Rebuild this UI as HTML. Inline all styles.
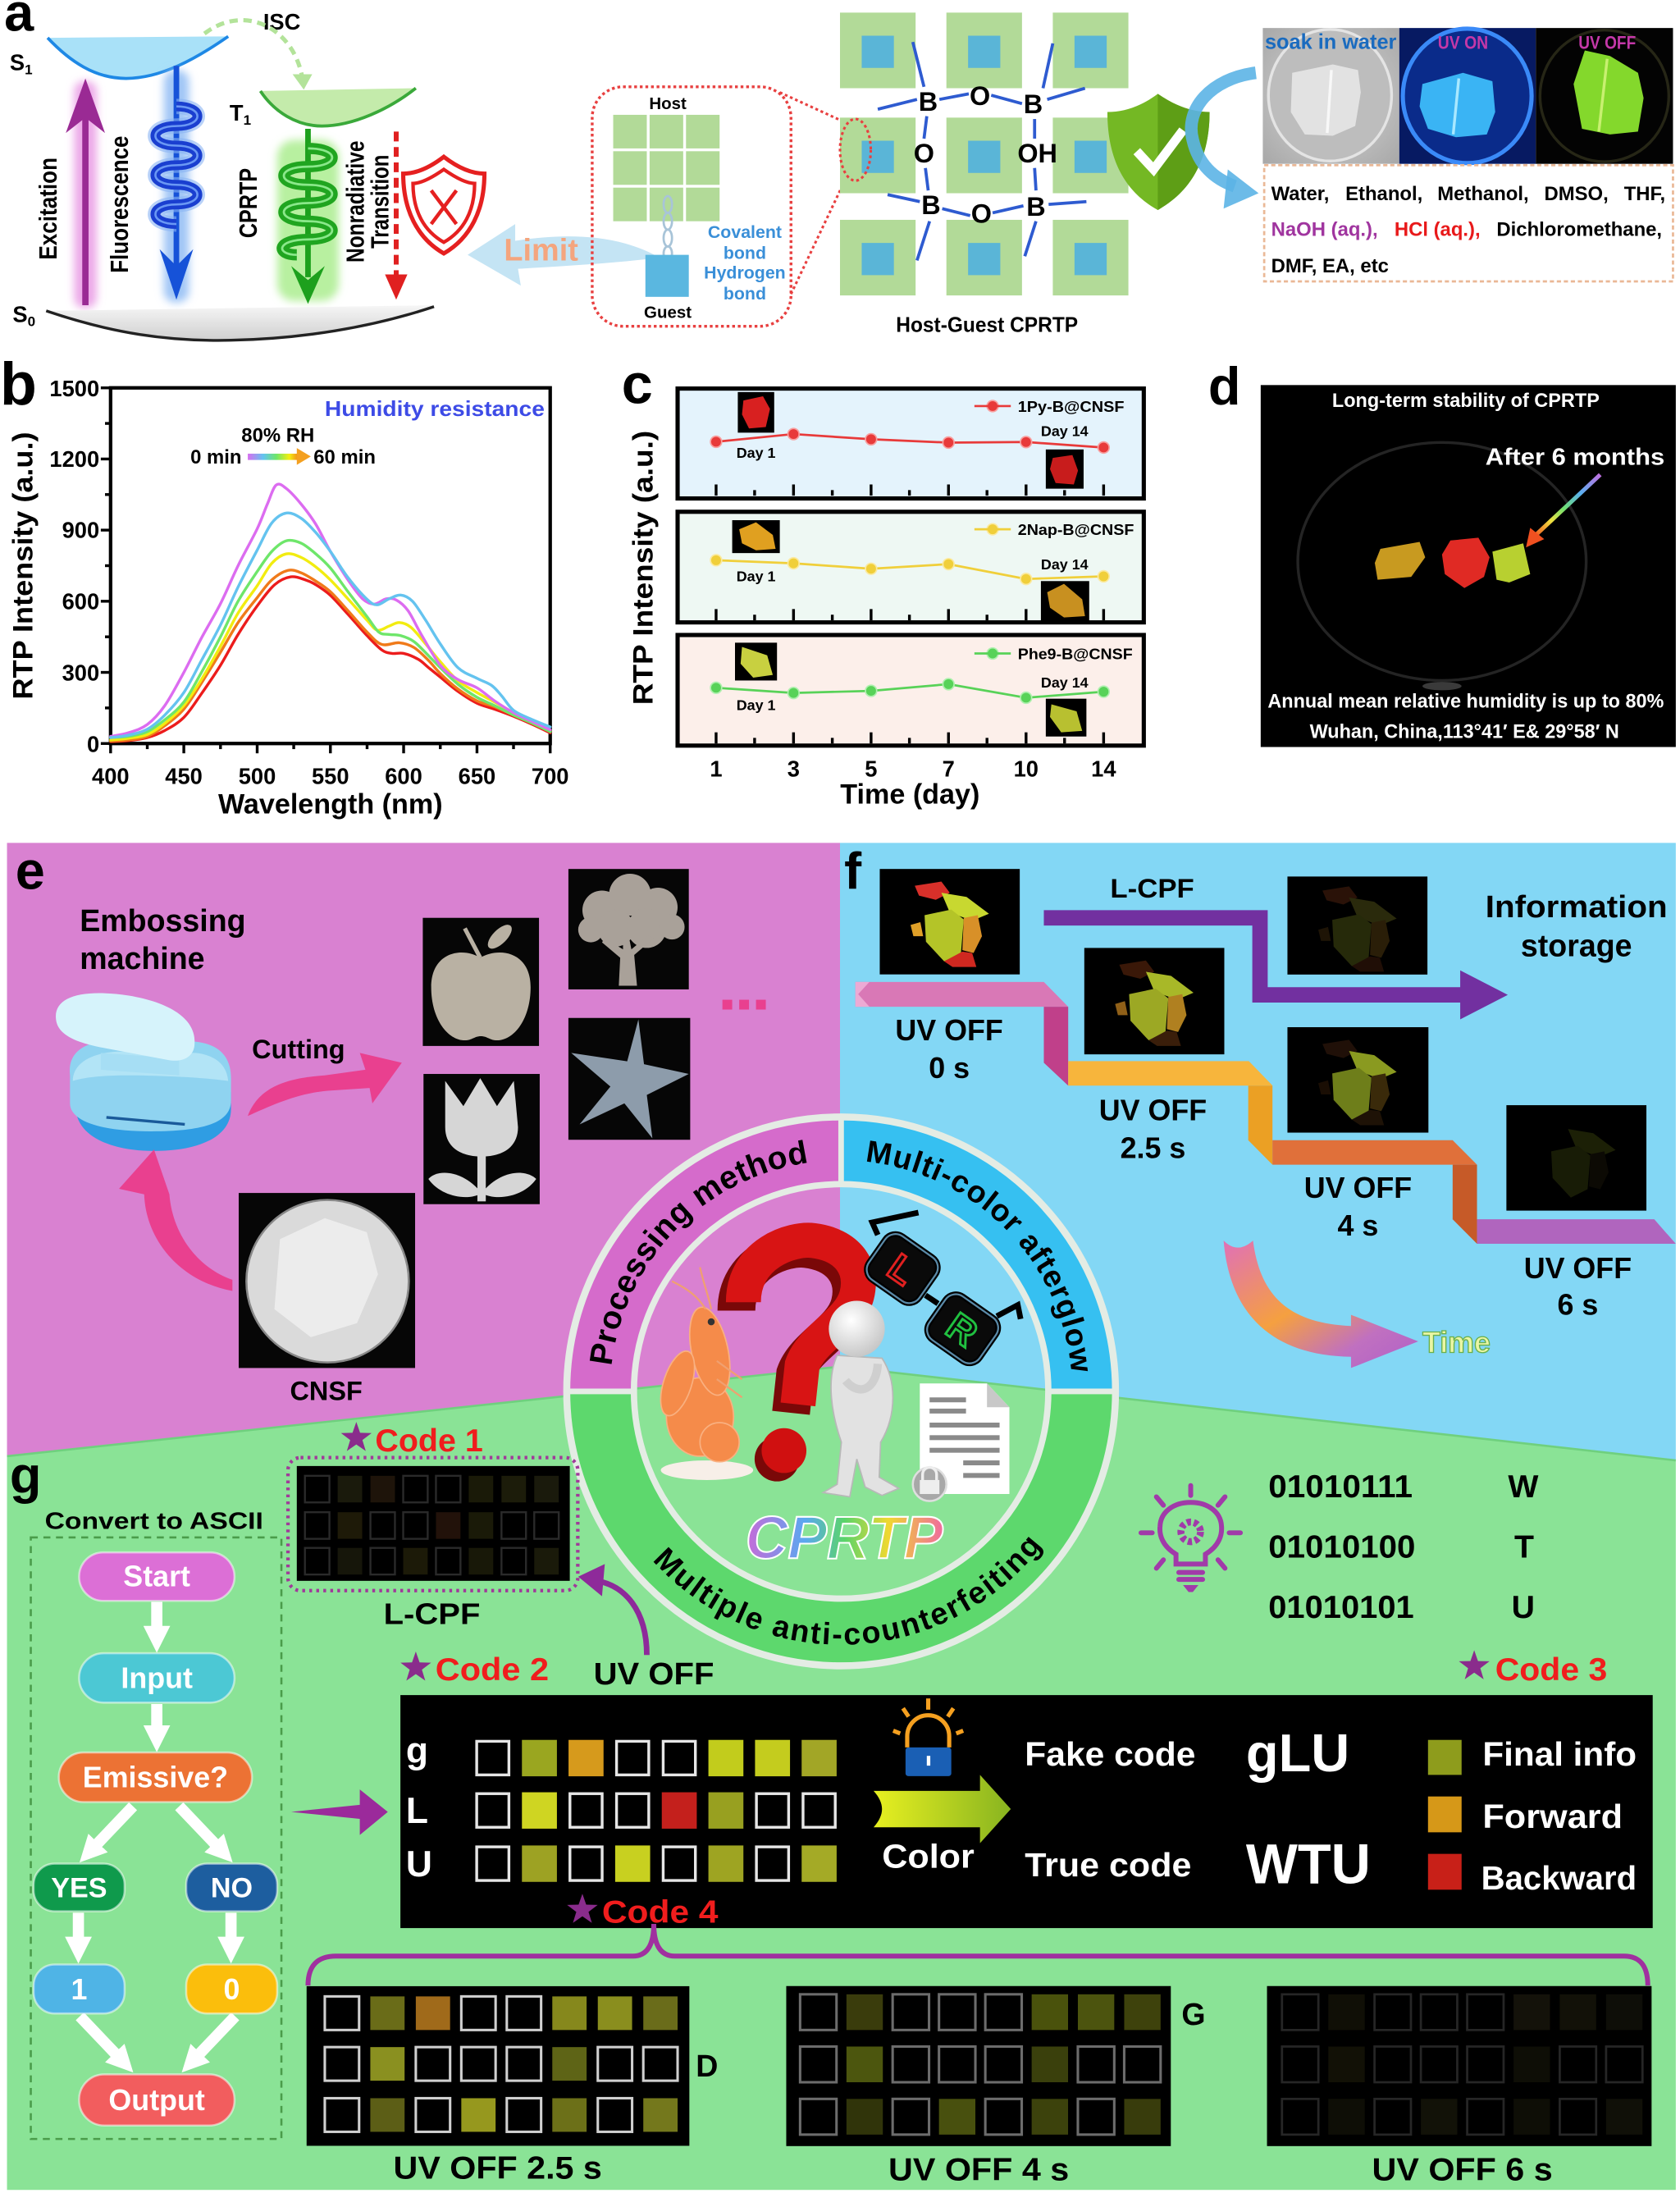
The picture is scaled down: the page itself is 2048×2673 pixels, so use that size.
<!DOCTYPE html>
<html><head><meta charset="utf-8">
<style>
html,body{margin:0;padding:0;background:#fff;}
svg{display:block;}
text{font-family:"Liberation Sans",Arial,sans-serif;font-weight:bold;}
.e{fill:#000;stroke:#e6e6e6;stroke-width:2}
.e2{fill:#000;stroke:#d0d0d0;stroke-width:1.8}
.e4{fill:#000;stroke:#6c6c6c;stroke-width:1.8}
.e6{fill:#000;stroke:#262626;stroke-width:1.6}
.e1{fill:#000;stroke:#2a2a2a;stroke-width:1.4}
</style></head><body>
<svg xmlns="http://www.w3.org/2000/svg" xmlns:xlink="http://www.w3.org/1999/xlink" width="2048" height="2673" viewBox="0 0 1200 1566.2" preserveAspectRatio="none">
<defs>
<path id="star" d="M0,-10 L2.35,-3.24 9.51,-3.09 3.8,1.24 5.88,8.09 0,4 -5.88,8.09 -3.8,1.24 -9.51,-3.09 -2.35,-3.24Z" fill="#8a2c8c"/>
<filter id="bl" x="-50%" y="-50%" width="200%" height="200%"><feGaussianBlur stdDeviation="3"/></filter>
<linearGradient id="rainbow" x1="0" x2="1" y1="0" y2="0"><stop offset="0" stop-color="#d86ef0"/><stop offset=".3" stop-color="#62c4f0"/><stop offset=".55" stop-color="#6ee66a"/><stop offset=".8" stop-color="#f4ef10"/><stop offset="1" stop-color="#f07a1a"/></linearGradient>
<linearGradient id="rainD" x1="1" y1="0" x2="0" y2="1"><stop offset="0" stop-color="#c070e0"/><stop offset=".3" stop-color="#5ab0f0"/><stop offset=".55" stop-color="#70e070"/><stop offset=".75" stop-color="#f0e040"/><stop offset="1" stop-color="#f05020"/></linearGradient>
<linearGradient id="cpr" x1="0" x2="1"><stop offset="0" stop-color="#c86ad8"/><stop offset=".3" stop-color="#5aa8f0"/><stop offset=".5" stop-color="#5ad46a"/><stop offset=".72" stop-color="#f0d830"/><stop offset="1" stop-color="#f06aa0"/></linearGradient>
<linearGradient id="timeg" x1="0" y1="0" x2="1" y2="1"><stop offset="0" stop-color="#e070b8"/><stop offset=".45" stop-color="#f5a040"/><stop offset=".75" stop-color="#c070c0"/><stop offset="1" stop-color="#b060c8"/></linearGradient>
<linearGradient id="colg" x1="0" x2="1"><stop offset="0" stop-color="#e8f020"/><stop offset="1" stop-color="#88b420"/></linearGradient>
<linearGradient id="greyg" x1="0" x2="0" y1="0" y2="1"><stop offset="0" stop-color="#f6f6f6"/><stop offset="1" stop-color="#cfcfcf"/></linearGradient>
<radialGradient id="headg" cx=".4" cy=".35" r=".7"><stop offset="0" stop-color="#ffffff"/><stop offset="1" stop-color="#c4c4c4"/></radialGradient>
<radialGradient id="soak" cx=".5" cy=".5" r=".7"><stop offset="0" stop-color="#d8d8d8"/><stop offset="1" stop-color="#a8a8a8"/></radialGradient>
<marker id="wa" viewBox="0 0 10 10" refX="2" refY="5" markerWidth="2.4" markerHeight="2.4" orient="auto"><path d="M0,0 L10,5 L0,10 Z" fill="#fff"/></marker>
<path id="arcL" d="M435.8,993.7 A165,165 0 0 1 600.8,828.7"/>
<path id="arcR" d="M600.8,828.7 A165,165 0 0 1 765.8,993.7"/>
<path id="arcB" d="M419.8,993.7 A181,181 0 0 0 781.8,993.7"/>
</defs>
<rect x="0" y="0" width="1200" height="1566.2" fill="#fff"/>

<!-- ================= PANEL A ================= -->
<text x="3" y="22" font-size="38">a</text>
<text x="188" y="21" font-size="16">ISC</text>
<text x="7" y="50" font-size="16">S<tspan font-size="10" dy="3">1</tspan></text>
<path d="M34,27 C50,44 68,56 90,56 C115,56 140,42 163,26 Z" fill="#a9e1f8"/>
<path d="M34,27 C50,44 68,56 90,56 C115,56 140,42 163,26" fill="none" stroke="#1e88e5" stroke-width="2.2"/>
<path d="M146,24 C175,2 210,20 216,56" fill="none" stroke="#b3e39a" stroke-width="3" stroke-dasharray="6,4"/>
<polygon points="209,53 223,53 217,64" fill="#b3e39a"/>
<rect x="53" y="58" width="16" height="162" rx="7" fill="#eca8e8" filter="url(#bl)"/>
<line x1="61" y1="218" x2="61" y2="66" stroke="#9a2a94" stroke-width="4.5"/>
<path d="M47,95 L61,56 L75,95 L61,84 Z" fill="#9a2a94"/>
<text transform="translate(40.5,149) rotate(-90)" text-anchor="middle" font-size="18" textLength="73" lengthAdjust="spacingAndGlyphs">Excitation</text>
<rect x="117" y="50" width="18" height="166" rx="8" fill="#a0c6f6" filter="url(#bl)"/>
<line x1="126" y1="47" x2="126" y2="200" stroke="#1652d8" stroke-width="4"/>
<path d="M114,178 L126,214 L138,178 L126,190 Z" fill="#1652d8"/>
<path d="M126,76 C146,76 146,90 126,90 C106,90 106,104 126,104 C146,104 146,118 126,118 C106,118 106,132 126,132 C146,132 146,146 126,146 C106,146 106,160 126,160" fill="none" stroke="#8ab4f4" stroke-width="11" opacity=".6"/>
<path d="M126,76 C146,76 146,90 126,90 C106,90 106,104 126,104 C146,104 146,118 126,118 C106,118 106,132 126,132 C146,132 146,146 126,146 C106,146 106,160 126,160" fill="none" stroke="#1a3fd0" stroke-width="7"/>
<path d="M126,76 C146,76 146,90 126,90 C106,90 106,104 126,104 C146,104 146,118 126,118 C106,118 106,132 126,132 C146,132 146,146 126,146 C106,146 106,160 126,160" fill="none" stroke="#6a98f4" stroke-width="1.5"/>
<text transform="translate(91.5,146) rotate(-90)" text-anchor="middle" font-size="18" textLength="98" lengthAdjust="spacingAndGlyphs">Fluorescence</text>
<path d="M186,65 C196,80 212,90 230,90 C252,90 278,78 297,63 Z" fill="#c4ebab"/>
<path d="M186,65 C196,80 212,90 230,90 C252,90 278,78 297,63" fill="none" stroke="#3aa93a" stroke-width="2.2"/>
<text x="164" y="86" font-size="16">T<tspan font-size="10" dy="3">1</tspan></text>
<rect x="198" y="100" width="44" height="115" rx="12" fill="#b8f0a0" filter="url(#bl)"/>
<line x1="220" y1="92" x2="220" y2="198" stroke="#1da01d" stroke-width="4"/>
<path d="M208,190 L220,217 L232,190 L220,200 Z" fill="#1da01d"/>
<path d="M220,106 C243,106 243,119 220,119 C197,119 197,132 220,132 C243,132 243,145 220,145 C197,145 197,158 220,158 C243,158 243,171 220,171 C197,171 197,182 212,182" fill="none" stroke="#20a520" stroke-width="8"/>
<path d="M220,106 C243,106 243,119 220,119 C197,119 197,132 220,132 C243,132 243,145 220,145 C197,145 197,158 220,158 C243,158 243,171 220,171 C197,171 197,182 212,182" fill="none" stroke="#8ae88a" stroke-width="1.6"/>
<text transform="translate(183.5,145) rotate(-90)" text-anchor="middle" font-size="18" textLength="50" lengthAdjust="spacingAndGlyphs">CPRTP</text>
<text transform="translate(260,144) rotate(-90)" text-anchor="middle" font-size="18" textLength="87" lengthAdjust="spacingAndGlyphs">Nonradiative</text>
<text transform="translate(277.5,144) rotate(-90)" text-anchor="middle" font-size="18" textLength="67" lengthAdjust="spacingAndGlyphs">Transition</text>
<line x1="283" y1="94" x2="283" y2="198" stroke="#e02020" stroke-width="3.5" stroke-dasharray="7,4"/>
<polygon points="275,196 291,196 283,214" fill="#e02020"/>
<path d="M317,112 C330,122 340,124 346,124 C346,150 336,170 317,181 C298,170 288,150 288,124 C294,124 304,122 317,112 Z" fill="#fff" stroke="#e52020" stroke-width="3"/>
<path d="M317,121 C327,128 334,131 339,131 C339,151 331,165 317,173 C303,165 295,151 295,131 C300,131 307,128 317,121 Z" fill="none" stroke="#e52020" stroke-width="2.5"/>
<line x1="308" y1="136" x2="326" y2="160" stroke="#e52020" stroke-width="2.6"/>
<line x1="326" y1="136" x2="308" y2="160" stroke="#e52020" stroke-width="2.6"/>
<text x="9" y="230" font-size="16">S<tspan font-size="10" dy="3">0</tspan></text>
<path d="M33,222 L310,218 C265,234 215,242 165,243 C120,244 80,238 33,222 Z" fill="url(#greyg)"/>
<path d="M33,222 C80,238 120,244 165,243 C215,242 265,234 310,219" fill="none" stroke="#222" stroke-width="2"/>
<path d="M471,184 C440,166 400,167 368,172 L368,160 L334,182 L372,204 L370,192 C402,190 440,188 471,184 Z" fill="#c4e4f4"/>
<text x="360" y="186" font-size="22" fill="#f4a57e" textLength="53" lengthAdjust="spacingAndGlyphs">Limit</text>
<rect x="423" y="62" width="142" height="171" rx="22" fill="none" stroke="#e84040" stroke-width="2" stroke-dasharray="2,2"/>
<line x1="557" y1="66" x2="605" y2="88" stroke="#e84040" stroke-width="1.8" stroke-dasharray="2,2"/>
<line x1="565" y1="210" x2="602" y2="132" stroke="#e84040" stroke-width="1.8" stroke-dasharray="2,2"/>
<text x="477" y="78" font-size="12" text-anchor="middle">Host</text>
<g fill="#b2da98">
<rect x="438" y="82" width="24" height="24"/><rect x="464" y="82" width="24" height="24"/><rect x="490" y="82" width="24" height="24"/>
<rect x="438" y="108" width="24" height="24"/><rect x="464" y="108" width="24" height="24"/><rect x="490" y="108" width="24" height="24"/>
<rect x="438" y="134" width="24" height="24"/><rect x="464" y="134" width="24" height="24"/><rect x="490" y="134" width="24" height="24"/>
</g>
<g fill="none" stroke="#a8c4d8" stroke-width="1.6">
<ellipse cx="477" cy="146" rx="3" ry="6"/><ellipse cx="477" cy="158" rx="3" ry="6"/><ellipse cx="477" cy="170" rx="3" ry="6"/><ellipse cx="477" cy="181" rx="3" ry="5"/>
</g>
<rect x="461" y="182" width="31" height="30" fill="#5ab7e0"/>
<text x="477" y="227" font-size="12" text-anchor="middle">Guest</text>
<g font-size="12.5" fill="#3a8fd8" text-anchor="middle">
<text x="532" y="170">Covalent</text><text x="532" y="185">bond</text><text x="532" y="199">Hydrogen</text><text x="532" y="214">bond</text>
</g>

<g fill="#b2da98">
<rect x="600" y="9" width="54" height="54"/><rect x="676" y="9" width="54" height="54"/><rect x="752" y="9" width="54" height="54"/>
<rect x="600" y="84" width="54" height="54"/><rect x="676" y="84" width="54" height="54"/><rect x="752" y="84" width="54" height="54"/>
<rect x="600" y="157" width="54" height="54"/><rect x="676" y="157" width="54" height="54"/><rect x="752" y="157" width="54" height="54"/>
</g>
<g fill="#5ab5d7">
<rect x="615.5" y="25.5" width="23" height="23"/><rect x="691.5" y="25.5" width="23" height="23"/><rect x="767.5" y="25.5" width="23" height="23"/>
<rect x="615.5" y="100.5" width="23" height="23"/><rect x="691.5" y="100.5" width="23" height="23"/><rect x="767.5" y="100.5" width="23" height="23"/>
<rect x="615.5" y="173.5" width="23" height="23"/><rect x="691.5" y="173.5" width="23" height="23"/><rect x="767.5" y="173.5" width="23" height="23"/>
</g>
<ellipse cx="611" cy="107" rx="11" ry="22" fill="none" stroke="#e84040" stroke-width="1.8" stroke-dasharray="2,2"/>
<g stroke="#2e5bd0" stroke-width="2.2">
<line x1="652" y1="30" x2="660" y2="62"/><line x1="627" y1="78" x2="655" y2="71"/>
<line x1="671" y1="71" x2="692" y2="67"/><line x1="708" y1="68" x2="730" y2="74"/>
<line x1="745" y1="63" x2="752" y2="31"/><line x1="748" y1="71" x2="775" y2="63"/>
<line x1="662" y1="83" x2="660" y2="99"/><line x1="661" y1="120" x2="663" y2="136"/>
<line x1="739" y1="85" x2="739" y2="99"/><line x1="739" y1="120" x2="740" y2="136"/>
<line x1="634" y1="139" x2="657" y2="144"/><line x1="673" y1="149" x2="693" y2="154"/>
<line x1="709" y1="152" x2="731" y2="147"/><line x1="749" y1="146" x2="776" y2="144"/>
<line x1="664" y1="158" x2="655" y2="186"/><line x1="740" y1="158" x2="732" y2="183"/>
</g>
<g font-size="19" text-anchor="middle">
<text x="663" y="79">B</text><text x="700" y="75">O</text><text x="738" y="81">B</text>
<text x="660" y="116">O</text><text x="741" y="116">OH</text>
<text x="665" y="153">B</text><text x="701" y="159">O</text><text x="740" y="154">B</text>
</g>
<text x="705" y="237" font-size="15" text-anchor="middle" textLength="130" lengthAdjust="spacingAndGlyphs">Host-Guest CPRTP</text>
<path d="M827,67 C840,76 852,80 864,80 C864,112 852,136 827,150 C802,136 791,112 791,80 C803,80 815,76 827,67 Z" fill="#74b824"/>
<path d="M827,67 C840,76 852,80 864,80 C864,112 852,136 827,150 Z" fill="#5e9e16"/>
<polyline points="812,108 824,121 845,93" fill="none" stroke="#fff" stroke-width="6.5"/>
<path d="M897,52 C865,56 846,78 852,100 C856,118 868,128 882,133" fill="none" stroke="#5cb4e6" stroke-width="9" opacity=".9"/>
<polygon points="877,121 899,138 874,149" fill="#5cb4e6" opacity=".9"/>
<rect x="902" y="20" width="97.5" height="97" fill="url(#soak)"/>
<ellipse cx="950" cy="68" rx="44" ry="47" fill="#bdbdbd" stroke="#e4e4e4" stroke-width="2"/>
<polygon points="923,52 952,46 970,50 972,66 968,90 952,97 932,96 922,80" fill="#e6e6e6" opacity=".9"/>
<line x1="951" y1="50" x2="948" y2="95" stroke="#f8f8f8" stroke-width="2"/>
<rect x="999.5" y="20" width="97.5" height="97" fill="#071a62"/>
<ellipse cx="1048" cy="68.5" rx="46" ry="48" fill="#0a2b8a" stroke="#3a8af8" stroke-width="3"/>
<polygon points="1016,60 1045,52 1066,58 1068,80 1062,96 1040,98 1020,92 1014,76" fill="#3ab4f4"/>
<line x1="1042" y1="56" x2="1038" y2="96" stroke="#a8e8ff" stroke-width="2"/>
<rect x="1097" y="20" width="98" height="97" fill="#030303"/>
<ellipse cx="1146" cy="68.5" rx="46" ry="47" fill="none" stroke="#262616" stroke-width="2"/>
<polygon points="1132,36 1150,40 1170,52 1174,70 1170,94 1150,96 1130,92 1124,60" fill="#84d82c"/>
<line x1="1148" y1="42" x2="1142" y2="94" stroke="#c8f070" stroke-width="2"/>
<text x="903.5" y="35" font-size="15" fill="#1a6bbf" textLength="94" lengthAdjust="spacingAndGlyphs">soak in water</text>
<text x="1045" y="35" font-size="13" fill="#c438a8" text-anchor="middle" textLength="36" lengthAdjust="spacingAndGlyphs">UV ON</text>
<text x="1148" y="35" font-size="13" fill="#c438a8" text-anchor="middle" textLength="41" lengthAdjust="spacingAndGlyphs">UV OFF</text>
<rect x="903" y="118" width="292" height="83" fill="none" stroke="#eab896" stroke-width="1.6" stroke-dasharray="3,2"/>
<text y="143" font-size="14"><tspan x="908">Water,</tspan><tspan x="961">Ethanol,</tspan><tspan x="1026.7">Methanol,</tspan><tspan x="1103">DMSO,</tspan><tspan x="1160">THF,</tspan></text>
<text y="168.5" font-size="14"><tspan x="908" fill="#a0359f">NaOH (aq.),</tspan><tspan x="996" fill="#e8191a">HCl (aq.),</tspan><tspan x="1069">Dichloromethane,</tspan></text>
<text x="908" y="194.5" font-size="14">DMF, EA, etc</text>

<!-- ================= PANEL B ================= -->
<text x="0" y="289" font-size="43">b</text>
<rect x="79" y="277" width="314" height="254" fill="none" stroke="#000" stroke-width="2.5"/>
<g stroke="#000" stroke-width="2">
<line x1="79" y1="531" x2="79" y2="538"/><line x1="131.3" y1="531" x2="131.3" y2="538"/><line x1="183.7" y1="531" x2="183.7" y2="538"/><line x1="236" y1="531" x2="236" y2="538"/><line x1="288.3" y1="531" x2="288.3" y2="538"/><line x1="340.7" y1="531" x2="340.7" y2="538"/><line x1="393" y1="531" x2="393" y2="538"/>
<line x1="105.2" y1="531" x2="105.2" y2="535"/><line x1="157.5" y1="531" x2="157.5" y2="535"/><line x1="209.8" y1="531" x2="209.8" y2="535"/><line x1="262.2" y1="531" x2="262.2" y2="535"/><line x1="314.5" y1="531" x2="314.5" y2="535"/><line x1="366.8" y1="531" x2="366.8" y2="535"/>
<line x1="79" y1="531" x2="72" y2="531"/><line x1="79" y1="480.2" x2="72" y2="480.2"/><line x1="79" y1="429.4" x2="72" y2="429.4"/><line x1="79" y1="378.6" x2="72" y2="378.6"/><line x1="79" y1="327.8" x2="72" y2="327.8"/><line x1="79" y1="277" x2="72" y2="277"/>
<line x1="79" y1="505.6" x2="75" y2="505.6"/><line x1="79" y1="454.8" x2="75" y2="454.8"/><line x1="79" y1="404" x2="75" y2="404"/><line x1="79" y1="353.2" x2="75" y2="353.2"/><line x1="79" y1="302.4" x2="75" y2="302.4"/>
</g>
<g font-size="16" text-anchor="end">
<text x="71" y="537">0</text><text x="71" y="486">300</text><text x="71" y="435">600</text><text x="71" y="384">900</text><text x="71" y="333.5">1200</text><text x="71" y="283">1500</text>
</g>
<g font-size="16" text-anchor="middle">
<text x="79" y="560">400</text><text x="131.3" y="560">450</text><text x="183.7" y="560">500</text><text x="236" y="560">550</text><text x="288.3" y="560">600</text><text x="340.7" y="560">650</text><text x="393" y="560">700</text>
</g>
<text x="236" y="581" font-size="20" text-anchor="middle">Wavelength (nm)</text>
<text transform="translate(23,404) rotate(-90)" font-size="20" text-anchor="middle" textLength="191" lengthAdjust="spacingAndGlyphs">RTP Intensity (a.u.)</text>
<text x="232" y="297" font-size="15" fill="#3d4be6" textLength="157" lengthAdjust="spacingAndGlyphs">Humidity resistance</text>
<text x="198.5" y="315.5" font-size="14" text-anchor="middle">80% RH</text>
<text x="136" y="331" font-size="14">0 min</text>
<text x="224" y="331" font-size="14">60 min</text>
<rect x="177" y="324" width="37" height="4.5" fill="url(#rainbow)"/>
<polygon points="212,320 222,326 212,332" fill="#f4a020"/>
<g transform="translate(79,531) scale(1.04667,-0.169333) translate(-400,0)" fill="none" stroke-linejoin="round" stroke-linecap="round">
<polyline class="sm" vector-effect="non-scaling-stroke" stroke="#ec1c1c" stroke-width="3.4" points="400,8 412,12 425,25 437,55 450,110 462,210 475,330 487,460 500,580 512,670 523,703 533,690 540,670 550,625 562,545 575,455 585,395 592,380 600,380 610,355 617,320 625,280 637,220 650,170 662,145 675,115 688,80 700,45"/>
<polyline class="sm" vector-effect="non-scaling-stroke" stroke="#f07a1a" stroke-width="3.4" points="400,10 412,15 425,30 437,75 450,145 462,255 475,385 487,510 500,615 510,690 521,730 530,720 540,685 550,640 562,560 575,470 585,418 597,425 607,405 617,350 625,295 637,230 650,180 662,155 675,120 688,85 700,50"/>
<polyline class="sm" vector-effect="non-scaling-stroke" stroke="#f2ec10" stroke-width="3.4" points="400,15 412,22 425,38 437,85 450,160 462,270 475,410 487,550 500,665 510,760 520,800 530,785 540,745 550,690 562,610 575,520 582,478 590,495 597,510 605,490 615,420 625,345 637,265 650,215 662,175 675,130 688,90 700,55"/>
<polyline class="sm" vector-effect="non-scaling-stroke" stroke="#6ee66a" stroke-width="3.4" points="400,25 412,30 425,50 437,100 450,175 462,300 475,450 487,600 500,725 510,810 520,855 530,845 540,800 550,740 562,640 575,535 583,470 590,460 598,455 607,430 617,370 625,320 637,250 650,195 662,160 675,120 688,85 700,50"/>
<polyline class="sm" vector-effect="non-scaling-stroke" stroke="#dc6cf0" stroke-width="3.4" points="400,30 412,45 425,80 437,160 450,300 462,445 475,590 487,750 500,905 507,1010 513,1090 520,1075 530,1010 540,925 550,810 562,690 572,610 580,588 588,610 595,605 603,560 612,460 625,330 637,270 650,235 662,180 675,130 688,92 700,58"/>
<polyline class="sm" vector-effect="non-scaling-stroke" stroke="#64c3ef" stroke-width="3.4" points="400,25 412,35 425,60 437,120 450,215 462,350 475,500 487,660 500,815 510,930 520,972 530,950 540,890 550,810 562,700 575,608 582,585 590,610 598,626 606,600 615,520 625,420 637,320 650,275 660,245 667,200 675,140 688,100 700,70"/>
</g>

<!-- ================= PANEL C ================= -->
<text x="444" y="288" font-size="40">c</text>
<rect x="484" y="277.5" width="333" height="78.5" fill="#e4f3fc" stroke="#000" stroke-width="3"/>
<rect x="484" y="365.5" width="333" height="79" fill="#eef8f3" stroke="#000" stroke-width="3"/>
<rect x="484" y="453.5" width="333" height="79" fill="#fcefea" stroke="#000" stroke-width="3"/>
<g stroke="#000" stroke-width="2">
<path d="M511.5,354 v-8 M566.8,354 v-8 M622.2,354 v-8 M677.5,354 v-8 M732.9,354 v-8 M788.3,354 v-8 M539,354 v-4 M594.5,354 v-4 M649.6,354 v-4 M705,354 v-4 M760.4,354 v-4"/>
<path d="M511.5,443 v-8 M566.8,443 v-8 M622.2,443 v-8 M677.5,443 v-8 M732.9,443 v-8 M788.3,443 v-8 M539,443 v-4 M594.5,443 v-4 M649.6,443 v-4 M705,443 v-4 M760.4,443 v-4"/>
<path d="M511.5,531 v-8 M566.8,531 v-8 M622.2,531 v-8 M677.5,531 v-8 M732.9,531 v-8 M788.3,531 v-8 M539,531 v-4 M594.5,531 v-4 M649.6,531 v-4 M705,531 v-4 M760.4,531 v-4"/>
</g>
<rect x="527" y="280" width="26" height="29" fill="#000"/><polygon points="531,286 545,283 550,292 547,305 535,306 530,296" fill="#d82020"/>
<rect x="747" y="321" width="27" height="28" fill="#000"/><polygon points="752,327 766,325 770,336 767,346 754,345 750,335" fill="#c81c1c"/>
<rect x="523" y="371.5" width="34" height="23.5" fill="#000"/><polygon points="528,378 540,373 552,382 554,392 540,393 530,388" fill="#e0a020"/>
<rect x="743.5" y="415" width="34.5" height="29" fill="#000"/><polygon points="748,423 760,417 773,428 775,440 760,441 750,434" fill="#c89020"/>
<rect x="525" y="459" width="30" height="27" fill="#000"/><polygon points="530,462 548,468 552,482 538,484 529,474" fill="#c8d040"/>
<rect x="747" y="499" width="29" height="27" fill="#000"/><polygon points="751,503 769,508 773,522 758,523 750,512" fill="#b8c030"/>
<polyline points="511.5,315.5 566.8,310 622.2,313.7 677.5,316.1 732.9,315.7 788.3,319.6" fill="none" stroke="#e83a3a" stroke-width="1.6"/>
<polyline points="511.5,400.1 566.8,402.3 622.2,406.2 677.5,402.9 732.9,413.5 788.3,411.6" fill="none" stroke="#f0cf3a" stroke-width="1.6"/>
<polyline points="511.5,491.2 566.8,494.9 622.2,493.4 677.5,488.6 732.9,498.3 788.3,494" fill="none" stroke="#58d258" stroke-width="1.6"/>
<g fill="#e83a3a" stroke="#f8a0a0" stroke-width="1"><circle cx="511.5" cy="315.5" r="4"/><circle cx="566.8" cy="310" r="4"/><circle cx="622.2" cy="313.7" r="4"/><circle cx="677.5" cy="316.1" r="4"/><circle cx="732.9" cy="315.7" r="4"/><circle cx="788.3" cy="319.6" r="4"/><circle cx="709" cy="290" r="4"/></g>
<g fill="#f0cf3a" stroke="#fbeaa0" stroke-width="1"><circle cx="511.5" cy="400.1" r="4"/><circle cx="566.8" cy="402.3" r="4"/><circle cx="622.2" cy="406.2" r="4"/><circle cx="677.5" cy="402.9" r="4"/><circle cx="732.9" cy="413.5" r="4"/><circle cx="788.3" cy="411.6" r="4"/><circle cx="709" cy="378" r="4"/></g>
<g fill="#58d258" stroke="#b0f0b0" stroke-width="1"><circle cx="511.5" cy="491.2" r="4"/><circle cx="566.8" cy="494.9" r="4"/><circle cx="622.2" cy="493.4" r="4"/><circle cx="677.5" cy="488.6" r="4"/><circle cx="732.9" cy="498.3" r="4"/><circle cx="788.3" cy="494" r="4"/><circle cx="709" cy="466.7" r="4"/></g>
<line x1="696" y1="290" x2="722" y2="290" stroke="#e83a3a" stroke-width="1.6"/>
<line x1="696" y1="378" x2="722" y2="378" stroke="#f0cf3a" stroke-width="1.6"/>
<line x1="696" y1="466.7" x2="722" y2="466.7" stroke="#58d258" stroke-width="1.6"/>
<text x="727" y="294" font-size="11" textLength="76" lengthAdjust="spacingAndGlyphs">1Py-B@CNSF</text>
<text x="727" y="382" font-size="11" textLength="83" lengthAdjust="spacingAndGlyphs">2Nap-B@CNSF</text>
<text x="727" y="470.7" font-size="11" textLength="82" lengthAdjust="spacingAndGlyphs">Phe9-B@CNSF</text>
<g font-size="10.5">
<text x="526" y="327">Day 1</text><text x="526" y="415">Day 1</text><text x="526" y="507">Day 1</text>
<text x="743.5" y="311.5">Day 14</text><text x="743.5" y="406.5">Day 14</text><text x="743.5" y="491">Day 14</text>
</g>
<g font-size="16" text-anchor="middle">
<text x="511.5" y="554.5">1</text><text x="566.8" y="554.5">3</text><text x="622.2" y="554.5">5</text><text x="677.5" y="554.5">7</text><text x="732.9" y="554.5">10</text><text x="788.3" y="554.5">14</text>
</g>
<text x="650" y="574" font-size="20" text-anchor="middle">Time (day)</text>
<text transform="translate(466,405.5) rotate(-90)" font-size="20" text-anchor="middle" textLength="196" lengthAdjust="spacingAndGlyphs">RTP Intensity (a.u.)</text>

<!-- ================= PANEL D ================= -->
<text x="863" y="289" font-size="38">d</text>
<rect x="900.5" y="275" width="296.5" height="258.5" fill="#000"/>
<ellipse cx="1030" cy="401" rx="103" ry="85" fill="none" stroke="#242424" stroke-width="2"/>
<ellipse cx="1030" cy="490" rx="14" ry="3" fill="#3a3a3a"/>
<polygon points="986,392 1014,387 1018,398 1008,412 984,414 982,402" fill="#c89a20"/>
<polygon points="1036,386 1056,384 1064,398 1060,412 1046,420 1032,410 1030,396" fill="#e02a24"/>
<polygon points="1066,394 1088,388 1093,410 1078,416 1069,414" fill="#b8d030"/>
<line x1="1143" y1="339" x2="1096" y2="383" stroke="url(#rainD)" stroke-width="3"/>
<polygon points="1090,391 1093,377 1103,385" fill="#f05020"/>
<g fill="#fff" text-anchor="middle">
<text x="1047" y="290.5" font-size="14" textLength="191" lengthAdjust="spacingAndGlyphs">Long-term stability of CPRTP</text>
<text x="1125" y="332" font-size="17" textLength="128" lengthAdjust="spacingAndGlyphs">After 6 months</text>
<text x="1047" y="505.5" font-size="14" textLength="283" lengthAdjust="spacingAndGlyphs">Annual mean relative humidity is up to 80%</text>
<text x="1046" y="527" font-size="14" textLength="221" lengthAdjust="spacingAndGlyphs">Wuhan, China,113°41′ E&amp; 29°58′ N</text>
</g>

<!-- ================= E/F/G BACKGROUND ================= -->
<polygon points="5,602 600,602 600,976 5,1040" fill="#d981d1"/>
<polygon points="600,602 1197,602 1197,1043 600,976" fill="#83d7f5"/>
<polygon points="5,1040 600,976 1197,1043 1197,1564 5,1564" fill="#8ae396"/>
<polyline points="5,1040 600,976 1197,1043" fill="none" stroke="#6fd07e" stroke-width="1.5"/>

<!-- ================= PANEL E ================= -->
<text x="11" y="635" font-size="38">e</text>
<text x="57" y="665" font-size="22">Embossing</text>
<text x="57" y="692" font-size="22">machine</text>
<path d="M54,790 C54,812 80,822 110,822 C142,822 165,812 165,792 L165,780 L54,782 Z" fill="#2f9de3"/>
<path d="M50,768 C48,750 62,744 82,742 L140,744 C158,746 165,756 165,770 L165,786 C165,802 145,808 108,808 C70,808 50,800 50,788 Z" fill="#8fd3f0"/>
<path d="M52,772 C52,760 64,752 84,751 L140,752 C156,754 162,762 163,772 C150,770 120,768 90,768 C70,768 58,770 52,772 Z" fill="#b2e4f6"/>
<line x1="76" y1="798" x2="132" y2="803" stroke="#1a5a9a" stroke-width="2"/>
<path d="M72,752 L128,756 L128,768 L72,764 Z" fill="#a6def4"/>
<path d="M40,728 C38,712 58,706 92,711 C122,716 140,728 139,745 C139,755 130,759 120,757 L72,748 C52,744 41,738 40,728 Z" fill="#d6f3fb"/>
<text x="180" y="756" font-size="19">Cutting</text>
<path d="M177,797 C185,776 205,770 232,768 L261,764 L257,752 L287,759 L266,788 L264,777 L234,779 C212,781 195,789 177,797 Z" fill="#e9408f"/>
<path d="M166,922 C128,915 104,885 103,853 L85,849 L110,821 L121,853 C123,880 140,905 166,914 Z" fill="#e9408f"/>
<rect x="302" y="655.5" width="83" height="91.5" fill="#060606"/>
<path d="M343,684 C330,676 308,680 308,705 C308,728 320,743 332,743 C337,743 339,740 343.5,740 C348,740 350,743 355,743 C367,743 379,728 379,705 C379,680 357,676 343,684 Z" fill="#b9b1a3"/>
<path d="M343,684 L332,663" stroke="#b9b1a3" stroke-width="3"/>
<ellipse cx="357" cy="669" rx="11" ry="5" transform="rotate(-45 357 669)" fill="#b9b1a3"/>
<rect x="406" y="620.6" width="86" height="86" fill="#060606"/>
<g fill="#a9a199"><circle cx="430" cy="650" r="14"/><circle cx="450" cy="639" r="15"/><circle cx="470" cy="648" r="14"/><circle cx="440" cy="663" r="13"/><circle cx="462" cy="663" r="14"/><circle cx="480" cy="662" r="9"/><circle cx="422" cy="664" r="9"/>
<polygon points="442,704 455,704 453,682 467,670 463,668 451,678 449,668 445,668 445,678 432,670 430,673 443,684"/></g>
<rect x="302.5" y="767" width="83" height="93" fill="#060606"/>
<g fill="#d6d6d6"><path d="M318,772 L331,790 L343,770 L355,790 L367,772 L370,805 C370,820 358,826 344,826 C330,826 318,820 318,805 Z"/><rect x="341" y="824" width="6" height="34"/>
<path d="M344,852 C330,835 312,835 306,842 C315,855 335,858 344,852 Z"/><path d="M344,852 C358,835 376,835 383,842 C374,855 354,858 344,852 Z"/></g>
<rect x="406" y="727" width="87" height="87" fill="#060606"/>
<polygon points="456,728 448,758 408,752 436,776 414,803 446,788 466,813 462,782 492,767 460,760" fill="#8d9cab"/>
<rect x="516" y="714" width="7" height="7" fill="#e9408f"/><rect x="528" y="714" width="7" height="7" fill="#e9408f"/><rect x="540" y="714" width="7" height="7" fill="#e9408f"/>
<rect x="170.5" y="852" width="126" height="125" fill="#060606"/>
<circle cx="234" cy="915" r="58" fill="#dadada" stroke="#888" stroke-width="1.5"/>
<polygon points="200,885 232,870 262,880 270,910 255,945 222,955 196,935" fill="#f0f0f0" opacity=".8"/>
<text x="233" y="1000" font-size="19" text-anchor="middle">CNSF</text>

<!-- ================= PANEL F ================= -->
<text x="603" y="635" font-size="37">f</text>
<polygon points="611,701.3 745.6,701.3 763,719 611,719" fill="#d978b6"/>
<polygon points="611,701.3 621,701.3 613,710 621,719 611,719" fill="#ecaad4"/>
<polygon points="745.6,719 763,719 763,775.3 745.6,759" fill="#c0408a"/>
<polygon points="763,757.8 892,757.8 909,775.3 763,775.3" fill="#f7b53c"/>
<polygon points="891.6,775.3 908.9,775.3 908.9,831.8 891.6,814.3" fill="#eba024"/>
<polygon points="908.9,814.3 1037.6,814.3 1055,831.8 908.9,831.8" fill="#e0703a"/>
<polygon points="1037.6,831.8 1055,831.8 1055,888.3 1037.6,870.8" fill="#c65a28"/>
<polygon points="1055,870.8 1181.6,870.8 1197,888.3 1055,888.3" fill="#b065be"/>
<path d="M745.6,655.5 H900 V710.5 H1045" fill="none" stroke="#7230a0" stroke-width="11"/>
<polygon points="1043,693 1077,710.5 1043,728" fill="#7230a0"/>
<text x="793" y="641" font-size="19" textLength="60" lengthAdjust="spacingAndGlyphs">L-CPF</text>
<text x="1126" y="655" font-size="22" text-anchor="middle" textLength="130" lengthAdjust="spacingAndGlyphs">Information</text>
<text x="1126" y="683" font-size="22" text-anchor="middle">storage</text>
<rect x="628.4" y="620.6" width="100" height="75.3" fill="#000"/>
<g transform="translate(628.4,620.6)"><polygon points="25,12 44,9 50,17 40,22 28,19" fill="#d8302a"/><polygon points="44,17 62,20 78,32 66,37 50,31" fill="#c8d830"/><polygon points="32,33 51,29 60,36 58,60 46,66 33,52" fill="#b4c428"/><polygon points="60,35 70,33 73,48 67,60 59,58" fill="#d89028"/><polygon points="46,66 59,59 66,60 69,70 52,70" fill="#d02820"/><polygon points="22,40 29,38 31,48 24,48" fill="#e0a028"/></g>
<rect x="919.6" y="626" width="100" height="70" fill="#000"/>
<g transform="translate(919.6,624)"><polygon points="25,12 44,9 50,17 40,22 28,19" fill="#2a1208"/><polygon points="44,17 62,20 78,32 66,37 50,31" fill="#2a2a0c"/><polygon points="32,33 51,29 60,36 58,60 46,66 33,52" fill="#262a0a"/><polygon points="60,35 70,33 73,48 67,60 59,58" fill="#2a1e08"/><polygon points="46,66 59,59 66,60 69,70 52,70" fill="#200e06"/><polygon points="22,40 29,38 31,48 24,48" fill="#1e1406"/></g>
<rect x="774.5" y="677" width="100" height="76" fill="#000"/>
<g transform="translate(774.5,677)"><polygon points="25,12 44,9 50,17 40,22 28,19" fill="#3a1808"/><polygon points="44,17 62,20 78,32 66,37 50,31" fill="#a8b828"/><polygon points="32,33 51,29 60,36 58,60 46,66 33,52" fill="#9ca824"/><polygon points="60,35 70,33 73,48 67,60 59,58" fill="#b08020"/><polygon points="46,66 59,59 66,60 69,70 52,70" fill="#3a1e0a"/><polygon points="22,40 29,38 31,48 24,48" fill="#906018"/></g>
<rect x="919.6" y="733.6" width="100.7" height="75.3" fill="#000"/>
<g transform="translate(919.6,733.6)"><polygon points="25,12 44,9 50,17 40,22 28,19" fill="#201008"/><polygon points="44,17 62,20 78,32 66,37 50,31" fill="#8a9a20"/><polygon points="32,33 51,29 60,36 58,60 46,66 33,52" fill="#6e7e1a"/><polygon points="60,35 70,33 73,48 67,60 59,58" fill="#3a2a0a"/><polygon points="46,66 59,59 66,60 69,70 52,70" fill="#1e1206"/><polygon points="22,40 29,38 31,48 24,48" fill="#1a0e04"/></g>
<rect x="1076" y="789.3" width="100" height="75.3" fill="#000"/>
<g transform="translate(1076,789.3)"><polygon points="44,17 62,20 78,32 66,37 50,31" fill="#1c2006"/><polygon points="32,33 51,29 60,36 58,60 46,66 33,52" fill="#181c06"/><polygon points="60,35 70,33 73,48 67,60 59,58" fill="#0c0a04"/></g>
<g font-size="21" text-anchor="middle">
<text x="678" y="743">UV OFF</text><text x="678" y="770">0 s</text>
<text x="823.5" y="800">UV OFF</text><text x="823.5" y="827">2.5 s</text>
<text x="970" y="855.5">UV OFF</text><text x="970" y="882.5">4 s</text>
<text x="1127" y="913">UV OFF</text><text x="1127" y="939">6 s</text>
</g>
<path d="M874,886 Q884,896 895,886 C900,925 920,945 965,947 L965,939 L1013,958 L965,977 L965,969 C905,968 878,935 874,886 Z" fill="url(#timeg)"/>
<text x="1016" y="966" font-size="21" fill="#eaf6a4" stroke="#6ab04c" stroke-width=".8">Time</text>

<!-- ================= CENTER CIRCLE ================= -->
<path d="M404.8,993.7 A196,196 0 0 1 600.8,797.7 L600.8,845.7 A148,148 0 0 0 452.8,993.7 Z" fill="#d56bcb"/>
<path d="M600.8,797.7 A196,196 0 0 1 796.8,993.7 L748.8,993.7 A148,148 0 0 0 600.8,845.7 Z" fill="#36c0f1"/>
<path d="M796.8,993.7 A196,196 0 0 1 404.8,993.7 L452.8,993.7 A148,148 0 0 0 748.8,993.7 Z" fill="#5dd86d"/>
<circle cx="600.8" cy="993.7" r="196" fill="none" stroke="#e4ece4" stroke-width="5"/>
<circle cx="600.8" cy="993.7" r="148" fill="none" stroke="#e4ece4" stroke-width="4.5"/>
<line x1="600.8" y1="797" x2="600.8" y2="846" stroke="#e4ece4" stroke-width="4"/>
<line x1="404" y1="993.7" x2="453" y2="993.7" stroke="#e4ece4" stroke-width="4"/>
<line x1="748.5" y1="993.7" x2="797.5" y2="993.7" stroke="#e4ece4" stroke-width="4"/>
<text font-size="23"><textPath xlink:href="#arcL" href="#arcL" startOffset="18" textLength="218" lengthAdjust="spacing">Processing method</textPath></text>
<text font-size="22"><textPath xlink:href="#arcR" href="#arcR" startOffset="17" textLength="229" lengthAdjust="spacing">Multi-color afterglow</textPath></text>
<text font-size="22"><textPath xlink:href="#arcB" href="#arcB" startOffset="132" textLength="318" lengthAdjust="spacing">Multiple anti-counterfeiting</textPath></text>
<ellipse cx="505" cy="1050" rx="33" ry="7" fill="#f7efe8"/>
<g fill="#f58b4a" stroke="#f9b080" stroke-width="1">
<ellipse cx="500" cy="1012" rx="24" ry="28"/>
<ellipse cx="507" cy="965" rx="13" ry="32" transform="rotate(-12 507 965)"/>
<ellipse cx="484" cy="988" rx="10" ry="24" transform="rotate(18 484 988)"/>
<ellipse cx="514" cy="1030" rx="14" ry="14"/>
</g>
<g stroke="#f0a070" stroke-width="1.3" fill="none"><path d="M504,935 C498,925 490,920 480,915"/><path d="M508,935 C506,925 502,915 500,905"/><path d="M512,972 L530,985"/><path d="M512,985 L530,998"/></g>
<circle cx="508" cy="944" r="2.5" fill="#333"/>
<g transform="translate(-5,6)"><path d="M531,930 C531,895 566,884 581,886 C605,889 617,905 612,925 C607,945 580,955 573,975 L570,1003" fill="none" stroke="#7a0808" stroke-width="27"/><circle cx="560" cy="1036" r="16" fill="#7a0808"/></g>
<path d="M531,930 C531,895 566,884 581,886 C605,889 617,905 612,925 C607,945 580,955 573,975 L570,1003" fill="none" stroke="#d81414" stroke-width="25"/>
<circle cx="560" cy="1036" r="16" fill="#d01010"/>
<path d="M598,968 C590,985 594,1010 601,1030 L598,1060 L588,1066 L607,1069 L612,1042 L618,1062 L630,1068 L642,1063 L628,1055 L629,1030 C641,1010 640,985 630,970 Z" fill="#e2e2e2" stroke="#b8b8b8" stroke-width="1"/>
<path d="M604,986 C614,998 626,992 627,974" fill="none" stroke="#cfcfcf" stroke-width="6"/>
<circle cx="612" cy="949" r="20" fill="url(#headg)"/>
<g stroke="#000" stroke-width="4" fill="none"><path d="M627,882 L623,873 L656,866"/><path d="M712,940 L727,932 L729,942"/><line x1="661" y1="925" x2="670" y2="931"/></g>
<rect x="622.5" y="887" width="44" height="38" rx="9" transform="rotate(35 644.5 906)" fill="#0a0a0a" stroke="#000" stroke-width="4"/>
<rect x="622.5" y="887" width="44" height="38" rx="9" transform="rotate(35 644.5 906)" fill="none" stroke="#5a8aa8" stroke-width="1.3"/>
<rect x="665.6" y="930" width="44" height="38" rx="9" transform="rotate(35 687.6 949)" fill="#0a0a0a" stroke="#000" stroke-width="4"/>
<rect x="665.6" y="930" width="44" height="38" rx="9" transform="rotate(35 687.6 949)" fill="none" stroke="#5a8aa8" stroke-width="1.3"/>
<text x="644.5" y="916" font-size="27" text-anchor="middle" fill="none" stroke="#e02020" stroke-width="1.7" transform="rotate(35 644.5 906)">L</text>
<text x="687.6" y="959" font-size="27" text-anchor="middle" fill="none" stroke="#20c040" stroke-width="1.7" transform="rotate(35 687.6 949)">R</text>
<path d="M657,988 L705,988 L721,1005 L721,1067 L657,1067 Z" fill="#fff"/>
<polygon points="705,988 721,1005 705,1005" fill="#c8c8c8"/>
<g fill="#8a8a8a"><rect x="664" y="998" width="26" height="3.5"/><rect x="664" y="1006" width="26" height="3.5"/><rect x="664" y="1016" width="50" height="3.5"/><rect x="664" y="1025" width="50" height="3.5"/><rect x="664" y="1034" width="50" height="3.5"/><rect x="688" y="1043" width="26" height="3.5"/><rect x="688" y="1052" width="26" height="3.5"/></g>
<circle cx="664" cy="1060" r="12" fill="#a8a8a8" stroke="#dedede" stroke-width="1.5"/>
<path d="M659,1058 v-5 a5,5 0 0 1 10,0 v5" fill="none" stroke="#eee" stroke-width="2"/>
<rect x="657" y="1057" width="14" height="10" fill="#eee"/>
<text x="603" y="1113" font-size="43" font-style="italic" text-anchor="middle" fill="url(#cpr)" stroke="#fff" stroke-width="1.2" textLength="141" lengthAdjust="spacingAndGlyphs">CPRTP</text>

<!-- ================= PANEL G ================= -->
<text x="7" y="1066" font-size="37">g</text>
<text x="32" y="1092" font-size="17" textLength="156" lengthAdjust="spacingAndGlyphs">Convert to ASCII</text>
<rect x="22" y="1098" width="179" height="429.6" fill="none" stroke="#4a9c4a" stroke-width="1.5" stroke-dasharray="5,4"/>
<g stroke="#fff" stroke-width="8" marker-end="url(#wa)">
<line x1="112" y1="1144" x2="112" y2="1165"/><line x1="112" y1="1217" x2="112" y2="1236"/>
<line x1="95" y1="1290" x2="67.4" y2="1319"/><line x1="128" y1="1290" x2="155.6" y2="1319"/>
<line x1="56" y1="1366" x2="56" y2="1387"/><line x1="165" y1="1366" x2="165" y2="1387"/>
<line x1="57" y1="1440" x2="84.6" y2="1469"/><line x1="168" y1="1440" x2="140.4" y2="1469"/>
</g>
<g stroke="#ffffff" stroke-opacity=".5" stroke-width="1.5">
<rect x="56.5" y="1108.7" width="111" height="34.6" rx="17.3" fill="#dc6fd6"/>
<rect x="56.5" y="1180.7" width="111" height="35.3" rx="17.6" fill="#4cc8d4"/>
<rect x="42" y="1251.6" width="138" height="35.4" rx="17.7" fill="#ec7234"/>
<rect x="24" y="1331" width="65" height="34" rx="15" fill="#0f9a4c"/>
<rect x="133" y="1331" width="65" height="34" rx="15" fill="#1d5e9f"/>
<rect x="24" y="1403" width="65" height="35" rx="15" fill="#4fb4e6"/>
<rect x="133" y="1403" width="65" height="35" rx="15" fill="#fbbe0c"/>
<rect x="56.5" y="1481.5" width="111" height="36.5" rx="18" fill="#f25d5e"/>
</g>
<g fill="#fff" font-size="21" text-anchor="middle">
<text x="112" y="1133">Start</text><text x="112" y="1205.5">Input</text><text x="111" y="1276.5">Emissive?</text>
<text x="56.5" y="1355" font-size="20">YES</text><text x="165.5" y="1355" font-size="20">NO</text>
<text x="56.5" y="1428">1</text><text x="165.5" y="1428">0</text><text x="112" y="1507">Output</text>
</g>
<use xlink:href="#star" href="#star" transform="translate(254.5,1027) scale(1.15)"/>
<text x="268" y="1036.5" font-size="23" fill="#f01d1d" textLength="77" lengthAdjust="spacingAndGlyphs">Code 1</text>
<rect x="205.7" y="1041" width="207" height="95" rx="9" fill="none" stroke="#a03a9a" stroke-width="2.5" stroke-dasharray="2,3"/>
<rect x="212" y="1047" width="195" height="82" fill="#000"/>
<rect class="e1" x="217.8" y="1054" width="17.5" height="19"/><rect x="241.2" y="1054" width="17.5" height="19" fill="#1a1a0c"/><rect x="264.6" y="1054" width="17.5" height="19" fill="#1e140a"/><rect class="e1" x="288" y="1054" width="17.5" height="19"/><rect class="e1" x="311.4" y="1054" width="17.5" height="19"/><rect x="334.8" y="1054" width="17.5" height="19" fill="#1a1a08"/><rect x="358.2" y="1054" width="17.5" height="19" fill="#1c1c0a"/><rect x="381.6" y="1054" width="17.5" height="19" fill="#1a1a0c"/>
<rect class="e1" x="217.8" y="1080" width="17.5" height="19"/><rect x="241.2" y="1080" width="17.5" height="19" fill="#1e1a08"/><rect class="e1" x="264.6" y="1080" width="17.5" height="19"/><rect class="e1" x="288" y="1080" width="17.5" height="19"/><rect x="311.4" y="1080" width="17.5" height="19" fill="#22120a"/><rect x="334.8" y="1080" width="17.5" height="19" fill="#1a1a08"/><rect class="e1" x="358.2" y="1080" width="17.5" height="19"/><rect class="e1" x="381.6" y="1080" width="17.5" height="19"/>
<rect class="e1" x="217.8" y="1105.5" width="17.5" height="19"/><rect x="241.2" y="1105.5" width="17.5" height="19" fill="#16160a"/><rect class="e1" x="264.6" y="1105.5" width="17.5" height="19"/><rect x="288" y="1105.5" width="17.5" height="19" fill="#1c1a08"/><rect class="e1" x="311.4" y="1105.5" width="17.5" height="19"/><rect x="334.8" y="1105.5" width="17.5" height="19" fill="#181808"/><rect class="e1" x="358.2" y="1105.5" width="17.5" height="19"/><rect x="381.6" y="1105.5" width="17.5" height="19" fill="#1a1a0a"/>
<text x="274" y="1160" font-size="21" textLength="69" lengthAdjust="spacingAndGlyphs">L-CPF</text>
<path d="M462,1182 C462,1150 446,1132 426,1129" fill="none" stroke="#8e2a9a" stroke-width="4"/>
<polygon points="413,1126 432,1117 430,1140" fill="#8e2a9a"/>
<text x="424" y="1203" font-size="22" textLength="86" lengthAdjust="spacingAndGlyphs">UV OFF</text>
<use xlink:href="#star" href="#star" transform="translate(297,1191) scale(1.15)"/>
<text x="311" y="1200" font-size="23" fill="#f01d1d" textLength="81" lengthAdjust="spacingAndGlyphs">Code 2</text>
<polygon points="208,1294 257,1289 257,1278 277,1294 257,1310.5 257,1299" fill="#9b2a9b"/>
<rect x="286" y="1210.6" width="894.5" height="166.4" fill="#000"/>
<g fill="#fff" font-size="26">
<text x="290" y="1259">g</text><text x="290" y="1302">L</text><text x="290" y="1340">U</text>
</g>
<rect class="e" x="340.5" y="1243.6" width="23" height="24"/><rect x="372.8" y="1242.6" width="25" height="26" fill="#9aa620"/><rect x="406.1" y="1242.6" width="25" height="26" fill="#d69a1c"/><rect class="e" x="440.4" y="1243.6" width="23" height="24"/><rect class="e" x="473.7" y="1243.6" width="23" height="24"/><rect x="506" y="1242.6" width="25" height="26" fill="#c2cc1c"/><rect x="539.3" y="1242.6" width="25" height="26" fill="#c4cc1e"/><rect x="572.6" y="1242.6" width="25" height="26" fill="#a2a626"/>
<rect class="e" x="340.5" y="1281" width="23" height="24"/><rect x="372.8" y="1280" width="25" height="26" fill="#cfd522"/><rect class="e" x="407.1" y="1281" width="23" height="24"/><rect class="e" x="440.4" y="1281" width="23" height="24"/><rect x="472.7" y="1280" width="25" height="26" fill="#c4201c"/><rect x="506" y="1280" width="25" height="26" fill="#98a020"/><rect class="e" x="540.3" y="1281" width="23" height="24"/><rect class="e" x="573.6" y="1281" width="23" height="24"/>
<rect class="e" x="340.5" y="1319" width="23" height="24"/><rect x="372.8" y="1318" width="25" height="26" fill="#9da223"/><rect class="e" x="407.1" y="1319" width="23" height="24"/><rect x="439.4" y="1318" width="25" height="26" fill="#c8d020"/><rect class="e" x="473.7" y="1319" width="23" height="24"/><rect x="506" y="1318" width="25" height="26" fill="#9ea422"/><rect class="e" x="540.3" y="1319" width="23" height="24"/><rect x="572.6" y="1318" width="25" height="26" fill="#a4aa26"/>
<g stroke="#f5a020" stroke-width="3" fill="none"><path d="M648,1248 v-8 a15,15 0 0 1 30,0 v8"/><line x1="663" y1="1213" x2="663" y2="1221"/><line x1="645" y1="1220" x2="649" y2="1226"/><line x1="681" y1="1220" x2="677" y2="1226"/><line x1="638" y1="1236" x2="643" y2="1238"/><line x1="688" y1="1236" x2="683" y2="1238"/></g>
<rect x="646.8" y="1248" width="32.7" height="20.5" rx="2" fill="#1a5fb4"/>
<rect x="662" y="1254" width="2.5" height="7" fill="#fff"/>
<path d="M624,1279 L700,1279 L700,1267.6 L722,1292 L700,1316.4 L700,1305 L624,1305 C632,1296 632,1288 624,1279 Z" fill="url(#colg)"/>
<g fill="#fff">
<text x="630" y="1334" font-size="24" textLength="66" lengthAdjust="spacingAndGlyphs">Color</text>
<text x="732" y="1261" font-size="24" textLength="122" lengthAdjust="spacingAndGlyphs">Fake code</text>
<text x="890" y="1265" font-size="38" textLength="74" lengthAdjust="spacingAndGlyphs">gLU</text>
<text x="732" y="1340" font-size="24" textLength="119" lengthAdjust="spacingAndGlyphs">True code</text>
<text x="890" y="1345" font-size="40" textLength="89" lengthAdjust="spacingAndGlyphs">WTU</text>
<text x="1059" y="1261" font-size="24" textLength="110" lengthAdjust="spacingAndGlyphs">Final info</text>
<text x="1059" y="1305.5" font-size="24" textLength="100" lengthAdjust="spacingAndGlyphs">Forward</text>
<text x="1058" y="1349.5" font-size="24" textLength="111" lengthAdjust="spacingAndGlyphs">Backward</text>
</g>
<rect x="1020" y="1242.6" width="24" height="25" fill="#8e9c1c"/>
<rect x="1020" y="1283" width="24" height="25.6" fill="#d69818"/>
<rect x="1020" y="1324" width="24" height="25.6" fill="#c82018"/>
<use xlink:href="#star" href="#star" transform="translate(1053,1190) scale(1.15)"/>
<text x="1068" y="1200" font-size="23" fill="#f01d1d" textLength="80" lengthAdjust="spacingAndGlyphs">Code 3</text>
<g stroke="#a13aa9" stroke-width="3.5" fill="none" stroke-linecap="round">
<path d="M840,1117 L840,1110 C830,1104 828,1096 828.6,1090 C829,1080 838,1073 850.5,1073 C863,1073 872,1080 872.5,1090 C873,1096 871,1104 861,1110 L861,1117 Z"/>
<line x1="850.5" y1="1061" x2="850.5" y2="1068"/><line x1="815" y1="1094.7" x2="823" y2="1094.7"/><line x1="878" y1="1094.7" x2="886" y2="1094.7"/>
<line x1="826" y1="1069" x2="831" y2="1075"/><line x1="875" y1="1069" x2="870" y2="1075"/><line x1="826" y1="1120" x2="831" y2="1114"/><line x1="875" y1="1120" x2="870" y2="1114"/>
<line x1="842" y1="1123" x2="859" y2="1123"/><line x1="842" y1="1128" x2="859" y2="1128"/>
</g>
<circle cx="850.5" cy="1094" r="7" fill="none" stroke="#a13aa9" stroke-width="5" stroke-dasharray="3,2"/>
<path d="M845,1132 L856,1132 L852,1137 L849,1137 Z" fill="#a13aa9"/>
<g font-size="23">
<text x="906" y="1069.3" textLength="103" lengthAdjust="spacingAndGlyphs">01010111</text>
<text x="906" y="1112.5" textLength="105" lengthAdjust="spacingAndGlyphs">01010100</text>
<text x="906" y="1155.5" textLength="104" lengthAdjust="spacingAndGlyphs">01010101</text>
<text x="1088" y="1069.3" text-anchor="middle">W</text><text x="1088.7" y="1112.5" text-anchor="middle">T</text><text x="1088" y="1155.5" text-anchor="middle">U</text>
</g>
<use xlink:href="#star" href="#star" transform="translate(416,1364) scale(1.15)"/>
<text x="430" y="1373" font-size="23" fill="#f01d1d" textLength="83" lengthAdjust="spacingAndGlyphs">Code 4</text>
<path d="M220,1418 Q220,1397 240,1397 L452,1397 Q467,1397 467,1374 Q467,1397 482,1397 L1160,1397 Q1177,1397 1177,1418" fill="none" stroke="#a0309f" stroke-width="3.5"/>
<rect x="219" y="1418.5" width="273.4" height="114" fill="#000"/>
<rect class="e2" x="232" y="1425.8" width="24.5" height="24"/><rect x="264.5" y="1425.8" width="24.5" height="24" fill="#6a6c18"/><rect x="297" y="1425.8" width="24.5" height="24" fill="#a06a1a"/><rect class="e2" x="329.5" y="1425.8" width="24.5" height="24"/><rect class="e2" x="362" y="1425.8" width="24.5" height="24"/><rect x="394.5" y="1425.8" width="24.5" height="24" fill="#86881c"/><rect x="427" y="1425.8" width="24.5" height="24" fill="#8a8e1e"/><rect x="459.5" y="1425.8" width="24.5" height="24" fill="#6a6c1a"/>
<rect class="e2" x="232" y="1462" width="24.5" height="24"/><rect x="264.5" y="1462" width="24.5" height="24" fill="#8a9020"/><rect class="e2" x="297" y="1462" width="24.5" height="24"/><rect class="e2" x="329.5" y="1462" width="24.5" height="24"/><rect class="e2" x="362" y="1462" width="24.5" height="24"/><rect x="394.5" y="1462" width="24.5" height="24" fill="#5e6416"/><rect class="e2" x="427" y="1462" width="24.5" height="24"/><rect class="e2" x="459.5" y="1462" width="24.5" height="24"/>
<rect class="e2" x="232" y="1498.5" width="24.5" height="24"/><rect x="264.5" y="1498.5" width="24.5" height="24" fill="#5c5e16"/><rect class="e2" x="297" y="1498.5" width="24.5" height="24"/><rect x="329.5" y="1498.5" width="24.5" height="24" fill="#96981e"/><rect class="e2" x="362" y="1498.5" width="24.5" height="24"/><rect x="394.5" y="1498.5" width="24.5" height="24" fill="#6c7018"/><rect class="e2" x="427" y="1498.5" width="24.5" height="24"/><rect x="459.5" y="1498.5" width="24.5" height="24" fill="#74781c"/>
<text x="497" y="1483" font-size="22">D</text>
<text x="281" y="1556" font-size="23" textLength="149" lengthAdjust="spacingAndGlyphs">UV OFF 2.5 s</text>
<rect x="561.6" y="1418.4" width="274.7" height="114.3" fill="#000"/>
<rect class="e4" x="571.5" y="1424.3" width="26" height="25.5"/><rect x="604.6" y="1424.3" width="26" height="25.5" fill="#3a3c0c"/><rect class="e4" x="637.6" y="1424.3" width="26" height="25.5"/><rect class="e4" x="670.7" y="1424.3" width="26" height="25.5"/><rect class="e4" x="703.8" y="1424.3" width="26" height="25.5"/><rect x="736.9" y="1424.3" width="26" height="25.5" fill="#4a520c"/><rect x="769.9" y="1424.3" width="26" height="25.5" fill="#4c540e"/><rect x="803" y="1424.3" width="26" height="25.5" fill="#3e420c"/>
<rect class="e4" x="571.5" y="1461.6" width="26" height="25.5"/><rect x="604.6" y="1461.6" width="26" height="25.5" fill="#4c560e"/><rect class="e4" x="637.6" y="1461.6" width="26" height="25.5"/><rect class="e4" x="670.7" y="1461.6" width="26" height="25.5"/><rect class="e4" x="703.8" y="1461.6" width="26" height="25.5"/><rect x="736.9" y="1461.6" width="26" height="25.5" fill="#3a400c"/><rect class="e4" x="769.9" y="1461.6" width="26" height="25.5"/><rect class="e4" x="803" y="1461.6" width="26" height="25.5"/>
<rect class="e4" x="571.5" y="1499" width="26" height="25.5"/><rect x="604.6" y="1499" width="26" height="25.5" fill="#30340a"/><rect class="e4" x="637.6" y="1499" width="26" height="25.5"/><rect x="670.7" y="1499" width="26" height="25.5" fill="#48500e"/><rect class="e4" x="703.8" y="1499" width="26" height="25.5"/><rect x="736.9" y="1499" width="26" height="25.5" fill="#3c420c"/><rect class="e4" x="769.9" y="1499" width="26" height="25.5"/><rect x="803" y="1499" width="26" height="25.5" fill="#383c0c"/>
<text x="844" y="1446" font-size="22">G</text>
<text x="634.6" y="1557" font-size="23" textLength="129" lengthAdjust="spacingAndGlyphs">UV OFF 4 s</text>
<rect x="905" y="1418.4" width="274.7" height="114.3" fill="#000"/>
<rect class="e6" x="915.7" y="1424.3" width="26" height="25.5"/><rect x="948.8" y="1424.3" width="26" height="25.5" fill="#100f06"/><rect class="e6" x="981.8" y="1424.3" width="26" height="25.5"/><rect class="e6" x="1014.9" y="1424.3" width="26" height="25.5"/><rect class="e6" x="1048" y="1424.3" width="26" height="25.5"/><rect x="1081.1" y="1424.3" width="26" height="25.5" fill="#14120a"/><rect x="1114.1" y="1424.3" width="26" height="25.5" fill="#121108"/><rect x="1147.2" y="1424.3" width="26" height="25.5" fill="#0e0e08"/>
<rect class="e6" x="915.7" y="1461.6" width="26" height="25.5"/><rect x="948.8" y="1461.6" width="26" height="25.5" fill="#121106"/><rect class="e6" x="981.8" y="1461.6" width="26" height="25.5"/><rect class="e6" x="1014.9" y="1461.6" width="26" height="25.5"/><rect class="e6" x="1048" y="1461.6" width="26" height="25.5"/><rect x="1081.1" y="1461.6" width="26" height="25.5" fill="#0e0e06"/><rect class="e6" x="1114.1" y="1461.6" width="26" height="25.5"/><rect class="e6" x="1147.2" y="1461.6" width="26" height="25.5"/>
<rect class="e6" x="915.7" y="1499" width="26" height="25.5"/><rect x="948.8" y="1499" width="26" height="25.5" fill="#0e0e06"/><rect class="e6" x="981.8" y="1499" width="26" height="25.5"/><rect x="1014.9" y="1499" width="26" height="25.5" fill="#121208"/><rect class="e6" x="1048" y="1499" width="26" height="25.5"/><rect x="1081.1" y="1499" width="26" height="25.5" fill="#0e0e06"/><rect class="e6" x="1114.1" y="1499" width="26" height="25.5"/><rect x="1147.2" y="1499" width="26" height="25.5" fill="#101008"/>
<text x="980" y="1557" font-size="23" textLength="129" lengthAdjust="spacingAndGlyphs">UV OFF 6 s</text>
</svg>
<script>
(function(){
  var NS='http://www.w3.org/2000/svg';
  var pls=document.querySelectorAll('polyline.sm');
  for(var k=0;k<pls.length;k++){
    var pl=pls[k];
    var pts=pl.getAttribute('points').trim().split(/\s+/).map(function(p){return p.split(',').map(Number);});
    var d='M'+pts[0][0]+','+pts[0][1];
    for(var i=0;i<pts.length-1;i++){
      var p0=pts[i-1]||pts[i],p1=pts[i],p2=pts[i+1],p3=pts[i+2]||p2;
      var c1x=p1[0]+(p2[0]-p0[0])/6,c1y=p1[1]+(p2[1]-p0[1])/6;
      var c2x=p2[0]-(p3[0]-p1[0])/6,c2y=p2[1]-(p3[1]-p1[1])/6;
      d+=' C'+c1x+','+c1y+' '+c2x+','+c2y+' '+p2[0]+','+p2[1];
    }
    var path=document.createElementNS(NS,'path');
    path.setAttribute('d',d);
    path.setAttribute('fill','none');
    path.setAttribute('stroke',pl.getAttribute('stroke'));
    path.setAttribute('stroke-width',pl.getAttribute('stroke-width'));
    path.setAttribute('vector-effect','non-scaling-stroke');
    pl.parentNode.replaceChild(path,pl);
  }
})();
</script>
</body></html>
